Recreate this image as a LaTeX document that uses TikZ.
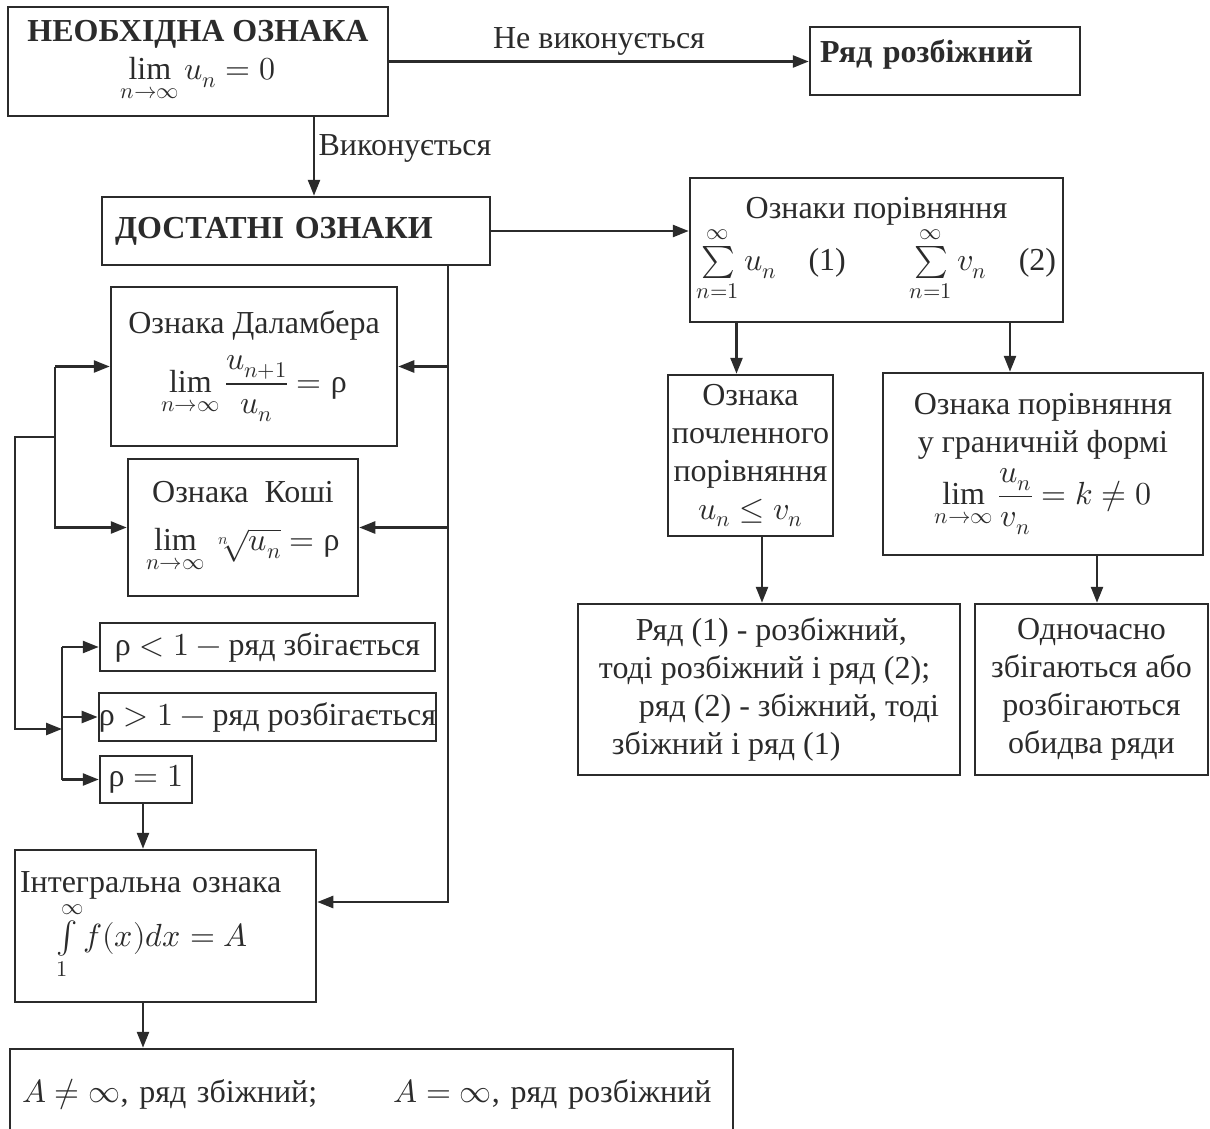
\documentclass[tikz,border=0pt]{standalone}
\usepackage{amsmath}
\usepackage{fontspec}
\usepackage{unicode-math}
\setmainfont{Liberation Serif}
\setmathfont{Latin Modern Math}
\usetikzlibrary{arrows.meta, calc, positioning}
\definecolor{ink}{HTML}{2B2B2B}
\newcommand{\boxfont}{\fontsize{32}{38}\selectfont}
\newcommand{\tipArrow}{{Triangle[length=16pt, width=12pt]}}
\newcommand{\rh}{\textup{ρ}}
\tikzset{box/.style = {draw=ink, line width=2.5pt, text=ink, inner sep=0pt, font=\boxfont, align=center}}
\tikzset{flow/.style = {draw=ink, line width=2.5pt, -\tipArrow}}
\tikzset{wire/.style = {draw=ink, line width=2.5pt}}

\begin{document}
\begin{tikzpicture}[x=1pt, y=-1pt]
	\useasboundingbox (0,0) rectangle (1210,1129);
	
	\node[box, minimum width=380pt, minimum height=109pt] (nec) at (198,61.5) {\textbf{НЕОБХІДНА ОЗНАКА}\\$\lim\limits_{n\to\infty}u_n=0$};
	\node[box, minimum width=270pt, minimum height=68pt, text width=250pt, inner xsep=10pt, align=left, text depth=20pt] (div) at (945,61) {\textbf{Ряд розбіжний}};
	\node[box, minimum width=388pt, minimum height=68pt, text width=362pt, inner xsep=13pt, align=left] (suff) at (296,231) {\textbf{ДОСТАТНІ ОЗНАКИ}};
	\node[box, minimum width=373pt, minimum height=144pt] (cmp) at (876.5,250) {Ознаки порівняння\\$\sum\limits_{n=1}^{\infty}u_n$\quad(1)\qquad$\sum\limits_{n=1}^{\infty}v_n$\quad(2)};
	
	\node[box, minimum width=286pt, minimum height=159pt] (dal) at (254,366.5) {Ознака Даламбера\\[14pt]$\lim\limits_{n\to\infty}\dfrac{u_{n+1}}{u_n}=\rh$};
	\node[box, minimum width=230pt, minimum height=137pt] (cau) at (243,527.5) {Ознака~~Коші\\[10pt]$\lim\limits_{n\to\infty}\,\sqrt[n]{u_n}=\rh$};
	\node[box, minimum width=335pt, minimum height=48pt] (lt) at (267.5,647) {$\rh<1-{}$ряд збігається};
	\node[box, minimum width=335pt, minimum height=48pt] (gt) at (267.5,717) {$\rh>1-{}$ряд розбігається};
	\node[box, minimum width=92pt, minimum height=47pt] (eq) at (146,779.5) {$\rh=1$};
	\node[box, minimum width=301pt, minimum height=152pt, text width=291pt, inner xsep=5pt, align=left] (integ) at (165.5,926) {Інтегральна ознака\\\hspace*{36pt}$\int\limits_{1}^{\infty}f(x)dx=A$};
	\node[box, minimum width=723pt, minimum height=91pt, text width=699pt, inner xsep=12pt, align=left] (res) at (371.5,1094.5) {$A\neq\infty$, ряд збіжний;\hspace{76pt}$A=\infty$, ряд розбіжний};
	
	\node[box, minimum width=165pt, minimum height=161pt] (term) at (750.5,455.5) {Ознака\\почленного\\порівняння\\$u_n\le v_n$};
	\node[box, minimum width=320pt, minimum height=182pt] (lim) at (1043,464) {Ознака порівняння\\у граничній формі\\[8pt]$\lim\limits_{n\to\infty}\dfrac{u_n}{v_n}=k\ne0$};
	\node[box, minimum width=382pt, minimum height=171pt, align=left] (ser) at (769,689.5) {\hspace*{37pt}Ряд (1) - розбіжний,\\тоді розбіжний і ряд (2);\\\hspace*{40pt}ряд (2) - збіжний, тоді\\\hspace*{13pt}збіжний і ряд (1)};
	\node[box, minimum width=233pt, minimum height=171pt] (both) at (1091.5,689.5) {Одночасно\\збігаються або\\розбігаються\\обидва ряди};
	
	\coordinate (trunk) at ([xshift=152pt]suff.south);
	\coordinate (loop) at (55,437);
	\coordinate (fork) at (62,729);
	
	\draw[flow]	(nec.east) -- node[above, text=ink, font=\boxfont, yshift=2pt] {Не виконується} (nec.east -| div.west);
	\draw[flow]	([xshift=116pt]nec.south) -- node[right, text=ink, font=\boxfont, yshift=8pt] {Виконується} ([xshift=116pt]nec.south |- suff.north);
	\draw[flow]	(suff.east) -- (suff.east -| cmp.west);
	\draw[flow]	([xshift=-14pt]term.north |- cmp.south) -- ([xshift=-14pt]term.north);
	\draw[flow]	([xshift=-33pt]lim.north |- cmp.south) -- ([xshift=-33pt]lim.north);
	\draw[flow]	([xshift=11.5pt]term.south) -- ([xshift=11.5pt]term.south |- ser.north);
	\draw[flow]	([xshift=54pt]lim.south) -- ([xshift=54pt]lim.south |- both.north);
	
	\draw[flow]	(trunk) |- ([yshift=24pt]integ.east);
	\draw[flow]	(trunk |- dal.east) -- (dal.east);
	\draw[flow]	(trunk |- cau.east) -- (cau.east);
	
	\draw[flow]	(loop |- dal.west) -- (dal.west);
	\draw[flow]	(loop |- dal.west) |- (cau.west);
	\draw[flow]	(loop) -- ++(-40,0) |- (fork);
	\draw[wire]	(fork |- lt.west) -- (fork |- eq.west);
	\draw[flow]	(fork |- lt.west) -- (lt.west);
	\draw[flow]	(fork |- gt.west) -- (gt.west);
	\draw[flow]	(fork |- eq.west) -- (eq.west);
	
	\draw[flow]	([xshift=-3pt]eq.south) -- ([xshift=-3pt]eq.south |- integ.north);
	\draw[flow]	([xshift=-22.5pt]integ.south) -- ([xshift=-22.5pt]integ.south |- res.north);
\end{tikzpicture}
\end{document}
